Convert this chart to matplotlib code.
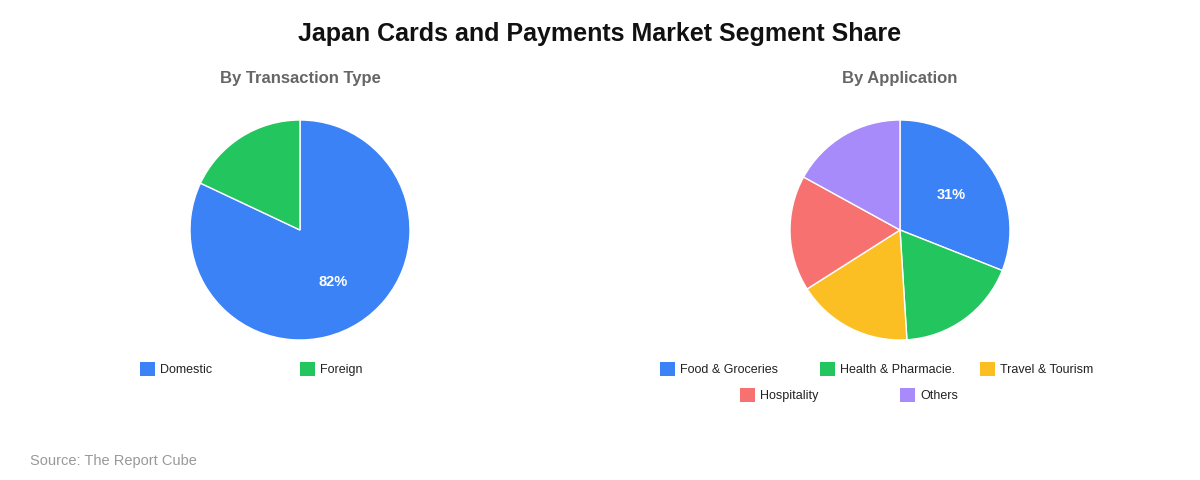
import matplotlib
matplotlib.use("Agg")
import matplotlib.pyplot as plt
from matplotlib.patches import Rectangle

plt.rcParams['font.family'] = ['Liberation Sans', 'DejaVu Sans']

title = "Japan Cards and Payments Market Segment Share"
source = "Source: The Report Cube"

left_title = "By Transaction Type"
left_labels = ["Domestic", "Foreign"]
left_values = [82, 18]
left_colors = ["#3b82f6", "#22c55e"]

right_title = "By Application"
right_labels = ["Food & Groceries", "Health & Pharmacie.", "Travel & Tourism", "Hospitality", "Others"]
right_values = [31, 18, 17, 17, 17]
right_colors = ["#3b82f6", "#22c55e", "#fbbf24", "#f87171", "#a78bfa"]

W, H = 1200, 480
fig = plt.figure(figsize=(W / 100, H / 100), dpi=100)
fig.patch.set_facecolor("white")


def px_axes(cx, cy, r):
    return fig.add_axes([(cx - r) / W, (H - cy - r) / H, 2 * r / W, 2 * r / H])


def fmt(p):
    return f"{p:.0f}%" if p >= 20 else ""


def draw_pie(cx, cy, values, colors, subtitle):
    ax = px_axes(cx, cy, 110)
    wedges, texts, autotexts = ax.pie(
        values, colors=colors, startangle=90, counterclock=False,
        autopct=fmt, pctdistance=0.56, radius=1.0,
        wedgeprops=dict(edgecolor="white", linewidth=1.0),
        textprops=dict(color="white", fontsize=10.5, fontweight="bold"))
    ax.set_xlim(-1.0, 1.0)
    ax.set_ylim(-1.0, 1.0)
    ax.set_aspect("equal")
    ax.axis("off")
    fig.text(cx / W, 1 - 78.5 / H, subtitle, ha="center", va="center",
             fontsize=12, fontweight="bold", color="#666666")


def legend_item(x, y, color, label):
    fig.add_artist(Rectangle((x / W, (H - y - 7) / H), 15 / W, 14 / H,
                             transform=fig.transFigure, facecolor=color,
                             edgecolor="none"))
    fig.text((x + 20) / W, 1 - (y + 1) / H, label, ha="left", va="center",
             fontsize=9, color="#222222")


draw_pie(300, 230, left_values, left_colors, left_title)
draw_pie(900, 230, right_values, right_colors, right_title)

left_pos = [(140, 369), (300, 369)]
for (x, y), c, l in zip(left_pos, left_colors, left_labels):
    legend_item(x, y, c, l)

right_pos = [(660, 369), (820, 369), (980, 369), (740, 395), (900, 395)]
for (x, y), c, l in zip(right_pos, right_colors, right_labels):
    legend_item(x, y, c, l)

fig.text(0.5, 1 - 34.5 / H, title, ha="center", va="center",
         fontsize=18, fontweight="bold", color="#111111")
fig.text(30 / W, 1 - 461 / H, source, ha="left", va="center",
         fontsize=10.5, color="#999999")

fig.savefig("out.png", dpi=100, facecolor="white")
